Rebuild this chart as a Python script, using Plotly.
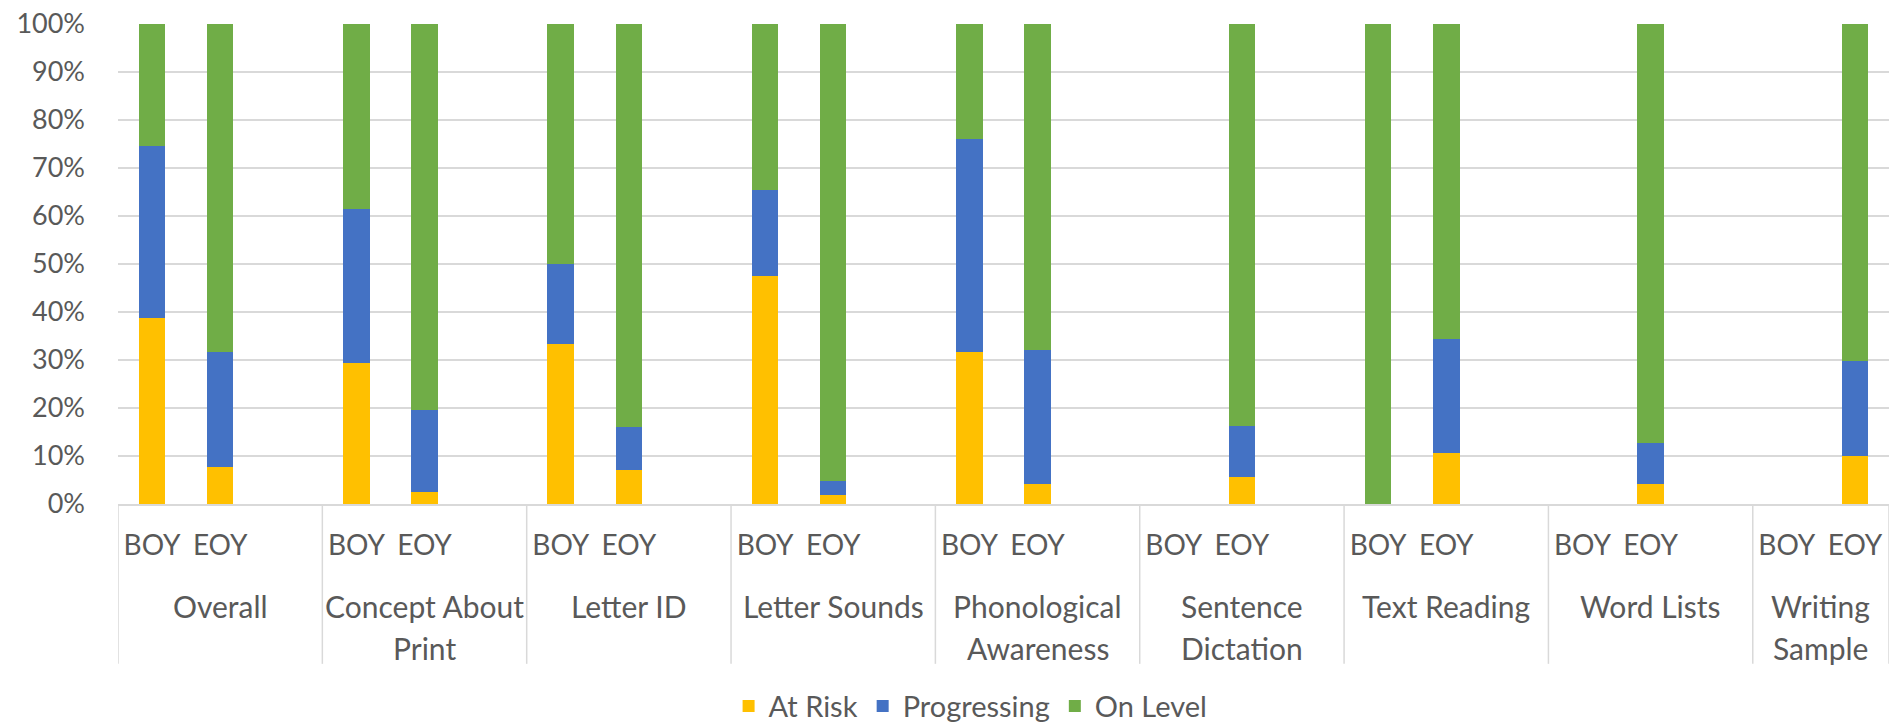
import plotly.graph_objects as go

# Assessment areas (group labels under the category axis), one list entry per text line
areas = [["Overall"], ["Concept About", "Print"], ["Letter ID"], ["Letter Sounds"],
         ["Phonological", "Awareness"], ["Sentence", "Dictation"], ["Text Reading"],
         ["Word Lists"], ["Writing", "Sample"]]
periods = ["BOY", "EOY"]
y_ticks = [0, 10, 20, 30, 40, 50, 60, 70, 80, 90, 100]
y_tick_labels = ["0%", "10%", "20%", "30%", "40%", "50%", "60%", "70%", "80%", "90%", "100%"]

# Percent of students in each band, beginning of year (None = not assessed)
at_risk_boy = [38.7, 29.4, 33.4, 47.6, 31.6, None, 0, None, None]
progressing_boy = [35.8, 32.1, 16.7, 17.8, 44.5, None, 0, None, None]
on_level_boy = [25.5, 38.5, 49.9, 34.6, 23.9, None, 100, None, None]

# Percent of students in each band, end of year
at_risk_eoy = [7.7, 2.4, 7.0, 1.9, 4.2, 5.6, 10.6, 4.2, 9.9]
progressing_eoy = [23.9, 17.1, 9.1, 2.8, 27.9, 10.7, 23.7, 8.5, 19.9]
on_level_eoy = [68.4, 80.5, 83.9, 95.3, 67.9, 83.7, 65.7, 87.3, 70.2]

series = [
    ("At Risk", at_risk_boy, at_risk_eoy, "#FFC000"),
    ("Progressing", progressing_boy, progressing_eoy, "#4472C4"),
    ("On Level", on_level_boy, on_level_eoy, "#70AD47"),
]

FONT = "Lato"
GREY = "#595959"
LINE = "#D9D9D9"

# Slot layout: each area takes BOY, EOY and a blank spacer slot (the last area has no spacer)
slot_of = []          # (boy_slot, eoy_slot) for every area
group_edges = [-0.5]  # divider positions between areas
slot = 0
for i in range(len(areas)):
    slot_of.append((slot, slot + 1))
    width = 3 if i < len(areas) - 1 else 2
    slot += width
    group_edges.append(slot - 0.5)
n_slots = slot

tick_pos, tick_txt = [], []
for b, e in slot_of:
    tick_pos += [b, e]
    tick_txt += periods

fig = go.Figure()
for name, boy, eoy, color in series:
    xs, ys = [], []
    for i, (b, e) in enumerate(slot_of):
        xs += [b, e]
        ys += [boy[i], eoy[i]]
    fig.add_trace(go.Bar(
        name=name, x=xs, y=ys,
        marker=dict(color=color, line=dict(width=0)),
    ))

# Area names centred under each group, one annotation per line
line_y = [-0.2125, -0.3]
for i, lines in enumerate(areas):
    centre = (group_edges[i] + group_edges[i + 1]) / 2
    for j, txt in enumerate(lines):
        fig.add_annotation(
            x=centre, xref="x", y=line_y[j], yref="paper",
            text=txt, showarrow=False, yanchor="middle", xanchor="center",
            font=dict(family=FONT, size=30, color=GREY),
        )

# Vertical dividers between areas
for edge in group_edges:
    fig.add_shape(
        type="line", x0=edge, x1=edge, xref="x",
        y0=0, y1=-0.333, yref="paper",
        line=dict(color=LINE, width=1.5),
    )

fig.update_layout(
    barmode="stack",
    bargap=0.61,
    width=1892,
    height=728,
    margin=dict(l=118, r=3, t=24, b=224, autoexpand=False),
    plot_bgcolor="white",
    paper_bgcolor="white",
    font=dict(family=FONT, size=28, color=GREY),
    showlegend=True,
    legend=dict(
        orientation="h", traceorder="normal",
        xref="container", x=0.513, xanchor="center",
        yref="container", y=0.03, yanchor="middle",
        font=dict(family=FONT, size=29, color=GREY),
        itemclick=False,
    ),
    xaxis=dict(
        range=[-0.5, n_slots - 0.5],
        tickvals=tick_pos, ticktext=tick_txt,
        showline=True, linecolor=LINE, linewidth=1.5,
        showgrid=False, zeroline=False, automargin=False,
        ticks="", ticklabelstandoff=16,
        tickfont=dict(family=FONT, size=28, color=GREY),
    ),
    yaxis=dict(
        range=[0, 100],
        tickvals=y_ticks, ticktext=y_tick_labels,
        showgrid=True, gridcolor=LINE, gridwidth=1.5,
        zeroline=False, automargin=False,
        ticklabelstandoff=32,
        tickfont=dict(family=FONT, size=27, color=GREY),
    ),
)

fig.write_html("out.html")
